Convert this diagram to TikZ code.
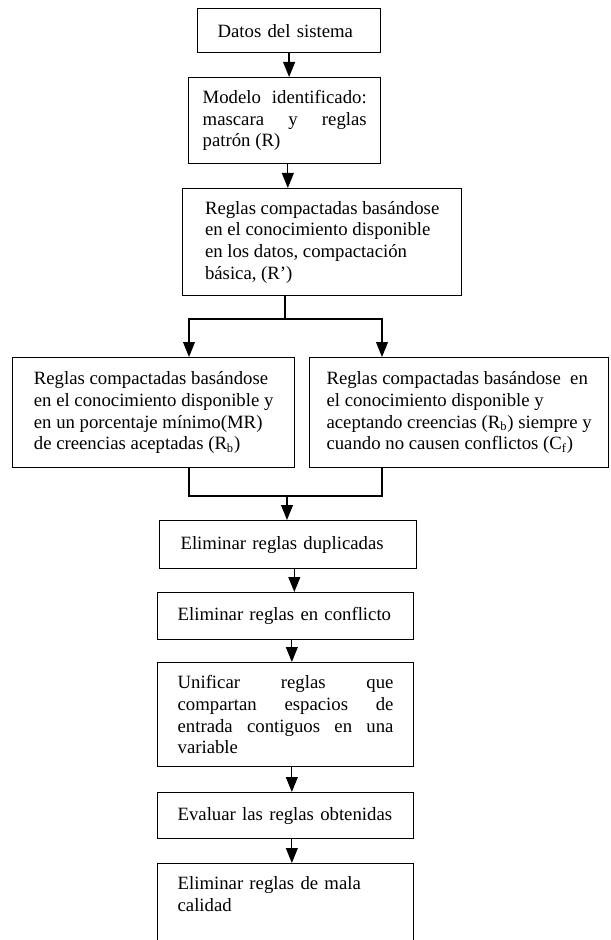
\documentclass[tikz,border=0pt]{standalone}
\usepackage{fontspec}
\setmainfont{Liberation Serif}
\usetikzlibrary{positioning,arrows.meta}

\begin{document}
\begin{tikzpicture}[x=0.64pt,y=-0.64pt,
            caja/.style={draw,line width=0.8pt,anchor=north west,align=left,
              font=\fontsize{12pt}{13.9pt}\selectfont},
            flecha/.style={line width=0.8pt,-{Triangle[width=7.6pt,length=9.6pt]}},
            linea/.style={line width=0.8pt}]
            \useasboundingbox (0,0) rectangle (610,940);
            \node[caja,text width=91.5pt,inner xsep=12.8pt,minimum height=28.2pt] (datos) at (197,8) {Datos del sistema};
            \node[caja,align=justify,text width=105pt,inner xsep=9pt,minimum height=55pt] (modelo) at (188,77)
              {Modelo identificado:\linebreak mascara y reglas\linebreak patrón (R)};
            \node[caja,minimum width=178.6pt,minimum height=68.5pt] (basica) at (182,188)
              {Reglas compactadas basándose\\en el conocimiento disponible\\en los datos, compactación\\básica, (R’)};
            \node[caja,minimum width=180.5pt,minimum height=70.4pt] (izq) at (12,357)
              {Reglas compactadas basándose\\en el conocimiento disponible y\\en un porcentaje mínimo(MR)\\de creencias aceptadas (R\textsubscript{b})};
            \node[caja,minimum width=191.4pt,minimum height=70.4pt] (der) at (309,357)
              {Reglas compactadas basándose~ en\\el conocimiento disponible y\\aceptando creencias (R\textsubscript{b}) siempre y\\cuando no causen conflictos (C\textsubscript{f})};
            \node[caja,text width=137.6pt,inner xsep=13.4pt,minimum height=30.7pt] (dup) at (159,520) {Eliminar reglas duplicadas};
            \node[caja,text width=138.2pt,inner xsep=12.8pt,minimum height=30.1pt] (conf) at (157,592) {Eliminar reglas en conflicto};
            \node[caja,align=justify,text width=138.2pt,inner xsep=12.8pt,minimum height=66.6pt] (unif) at (157,662)
              {Unificar reglas que\linebreak compartan espacios de\linebreak entrada contiguos en una\linebreak variable};
            \node[caja,text width=138.2pt,inner xsep=12.8pt,minimum height=29.4pt] (eval) at (157,792) {Evaluar las reglas obtenidas};
            \node[caja,text width=138.2pt,inner xsep=12.8pt,minimum height=52.5pt] (mala) at (157,863) {Eliminar reglas de mala\\calidad\\~};
            % puntos de reparto y union
            \coordinate (reparto) at (285,319);
            \coordinate (ramaI) at (189,319);
            \coordinate (ramaD) at (382,319);
            \coordinate (unionI) at (189,496);
            \coordinate (unionD) at (382,496);
            \coordinate (union) at (287,496);
            \draw[flecha] (datos.south) -- (datos.south |- modelo.north);
            \draw[flecha] ([xshift=2pt]modelo.south) -- ([xshift=2pt]modelo.south |- basica.north);
            \draw[linea] (reparto |- basica.south) -- (reparto);
            \draw[flecha] (reparto) -- (ramaI) -- (ramaI |- izq.north);
            \draw[flecha] (reparto) -- (ramaD) -- (ramaD |- der.north);
            \draw[linea] (ramaI |- izq.south) -- (unionI) -- (unionD) -- (ramaD |- der.south);
            \draw[flecha] (union) -- (union |- dup.north);
            \foreach \a/\b in {dup/conf,conf/unif,unif/eval,eval/mala}
              \draw[flecha] ([xshift=4pt]\a.south) -- ([xshift=4pt]\a.south |- \b.north);
        \end{tikzpicture}
\end{document}
